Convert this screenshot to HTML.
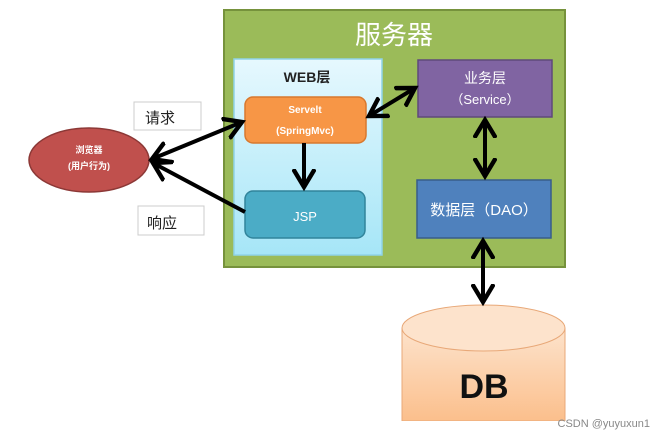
<!DOCTYPE html>
<html><head><meta charset="utf-8"><style>
body{margin:0;width:665px;height:439px;background:#fff;overflow:hidden;font-family:"Liberation Sans","Noto Sans CJK SC",sans-serif}
</style></head><body>
<svg width="665" height="439" viewBox="0 0 665 439" xmlns="http://www.w3.org/2000/svg" font-family="Liberation Sans, Noto Sans CJK SC, sans-serif">
<defs>
<marker id="a" markerWidth="6" markerHeight="6" refX="4.5" refY="3" orient="auto-start-reverse" markerUnits="strokeWidth"><path d="M0,0.3 L4.5,3 L0,5.7" fill="none" stroke="#000" stroke-width="1.1"/></marker>
<linearGradient id="w" x1="0" y1="0" x2="0" y2="1"><stop offset="0" stop-color="#e6f8fe"/><stop offset="1" stop-color="#a6e6f7"/></linearGradient>
<linearGradient id="db" x1="0" y1="0" x2="0" y2="1"><stop offset="0" stop-color="#fde3cc"/><stop offset="1" stop-color="#fbbf8c"/></linearGradient>
</defs>
<rect x="224" y="10" width="341" height="257" fill="#9bbb59" stroke="#76923c" stroke-width="2"/>
<text x="394" y="44" font-size="26" fill="#fff" text-anchor="middle">服务器</text>
<rect x="234" y="59" width="148" height="196" fill="url(#w)" stroke="#8fd3e8" stroke-width="1.5"/>
<text x="307" y="82" font-size="14" font-weight="bold" text-anchor="middle" fill="#222">WEB层</text>
<rect x="245" y="97" width="121" height="46" rx="8" fill="#f79646" stroke="#d8782e" stroke-width="1.5"/>
<text x="305" y="113" font-size="10" font-weight="bold" fill="#fff" text-anchor="middle">Servelt</text>
<text x="305" y="134" font-size="10" font-weight="bold" fill="#fff" text-anchor="middle">(SpringMvc)</text>
<rect x="245" y="191" width="120" height="47" rx="8" fill="#4bacc6" stroke="#31849b" stroke-width="1.5"/>
<text x="305" y="221" font-size="13" fill="#fff" text-anchor="middle">JSP</text>
<rect x="418" y="60" width="134" height="57" fill="#8064a2" stroke="#5f497a" stroke-width="1.5"/>
<text x="485" y="83" font-size="14" fill="#fff" text-anchor="middle">业务层</text>
<text x="485" y="104" font-size="13" fill="#fff" text-anchor="middle">（Service）</text>
<rect x="417" y="180" width="134" height="58" fill="#4f81bd" stroke="#385d8a" stroke-width="1.5"/>
<text x="484" y="215" font-size="15" fill="#fff" text-anchor="middle">数据层（DAO）</text>
<ellipse cx="89" cy="160" rx="60" ry="32" fill="#c0504d" stroke="#8c3836" stroke-width="1.5"/>
<text x="89" y="153" font-size="9" font-weight="bold" fill="#fff" text-anchor="middle">浏览器</text>
<text x="89" y="169" font-size="9" font-weight="bold" fill="#fff" text-anchor="middle">(用户行为)</text>
<rect x="134" y="102" width="67" height="28" fill="#fff" stroke="#ccc"/>
<text x="160" y="123" font-size="15" fill="#222" text-anchor="middle">请求</text>
<rect x="138" y="206" width="66" height="29" fill="#fff" stroke="#ccc"/>
<text x="162" y="228" font-size="15" fill="#222" text-anchor="middle">响应</text>
<path d="M402,328 L402,421 L565,421 L565,328" fill="url(#db)" stroke="#e8a878"/>
<ellipse cx="483.5" cy="328" rx="81.5" ry="23" fill="#fde3cc" stroke="#e8a878"/>
<text x="484" y="398" font-size="34" font-weight="bold" fill="#111" text-anchor="middle">DB</text>
<rect x="400" y="421" width="167" height="18" fill="#fff"/>
<text x="650" y="427" font-size="11" fill="#888" text-anchor="end">CSDN @yuyuxun1</text>
<g stroke="#000" stroke-width="4" fill="none">
<line x1="152" y1="159" x2="242" y2="122" marker-start="url(#a)" marker-end="url(#a)"/>
<line x1="245" y1="212" x2="153" y2="163" marker-end="url(#a)"/>
<line x1="304" y1="143" x2="304" y2="187" marker-end="url(#a)"/>
<line x1="369" y1="116" x2="415" y2="88" marker-start="url(#a)" marker-end="url(#a)"/>
<line x1="485" y1="120" x2="485" y2="176" marker-start="url(#a)" marker-end="url(#a)"/>
<line x1="483" y1="241" x2="483" y2="302" marker-start="url(#a)" marker-end="url(#a)"/>
</g>
</svg>
</body></html>
